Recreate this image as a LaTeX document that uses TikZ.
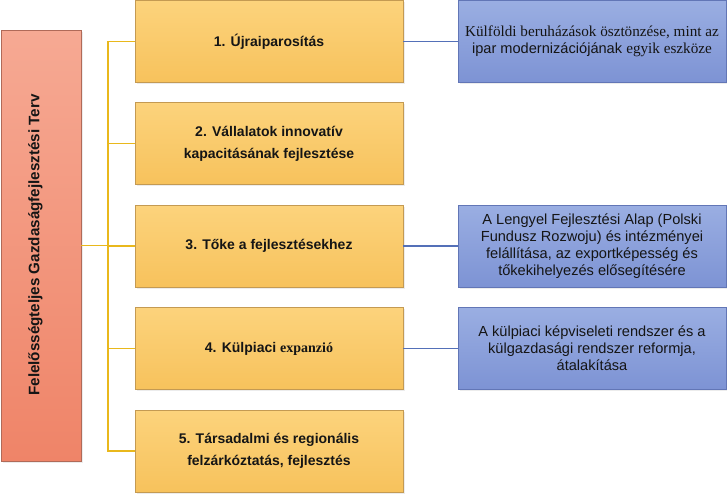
\documentclass[tikz,border=0pt]{standalone}
\usepackage{fontspec}
\setmainfont{Liberation Sans}
\newfontfamily\tms{Liberation Serif}
\usetikzlibrary{shadows}
\definecolor{yelTop}{HTML}{FCD37C}
\definecolor{yelBot}{HTML}{F7C25C}
\definecolor{yelBorder}{HTML}{C49A52}
\definecolor{bluTop}{HTML}{9AAEE2}
\definecolor{bluBot}{HTML}{7D93D4}
\definecolor{bluBorder}{HTML}{6276B6}
\definecolor{salTop}{HTML}{F6A993}
\definecolor{salBot}{HTML}{EF8468}
\definecolor{salBorder}{HTML}{B06A58}
\definecolor{yelLine}{HTML}{E9B81C}
\definecolor{bluLine}{HTML}{5470B8}
\definecolor{txt}{HTML}{151515}
\tikzset{
  yelbox/.style={draw=yelBorder, line width=0.8pt, top color=yelTop, bottom color=yelBot,
    minimum width=268pt, minimum height=82pt, inner sep=0pt, align=center,
    font=\fontsize{14}{22}\selectfont\bfseries, text=txt,
    drop shadow={shadow xshift=1.5pt, shadow yshift=-1.5pt, opacity=0.15}},
  blubox/.style={draw=bluBorder, line width=0.8pt, top color=bluTop, bottom color=bluBot,
    minimum width=268pt, minimum height=82pt, inner sep=0pt, align=center,
    font=\fontsize{14.6}{17}\selectfont, text=txt,
    drop shadow={shadow xshift=1.5pt, shadow yshift=-1.5pt, opacity=0.15}},
  salbox/.style={draw=salBorder, line width=0.8pt, top color=salTop, bottom color=salBot,
    minimum width=80pt, minimum height=431pt, inner sep=0pt,
    drop shadow={shadow xshift=1.5pt, shadow yshift=-1.5pt, opacity=0.15}},
  yelconn/.style={draw=yelLine, line width=1.5pt},
  bluconn/.style={draw=bluLine, line width=1.5pt},
}
\begin{document}
\begin{tikzpicture}[x=1pt,y=-1pt]
\useasboundingbox (0,0) rectangle (727,493);
\node[salbox] (L) at (41,245.5) {};
\node[rotate=90, font=\fontsize{15.2}{17}\selectfont\bfseries, text=txt] (Lt) at (35.5,245) {Felelősségteljes Gazdaságfejlesztési Terv};

\node[yelbox] (y1) at (269,41.5) {1. Újraiparosítás};
\node[yelbox] (y2) at (269,143.5) {2. Vállalatok innovatív\\kapacitásának fejlesztése};
\node[yelbox] (y3) at (269,246) {3. Tőke a fejlesztésekhez};
\node[yelbox] (y4) at (269,348.5) {4. Külpiaci {\tms expanzió}};
\node[yelbox] (y5) at (269,451) {5. Társadalmi és regionális\\felzárkóztatás, fejlesztés};

\node[blubox] (b1) at (592,41.5) {{\tms\fontsize{15.2}{17}\selectfont Külföldi beruházások ösztönzése, mint az}\\ipar modernizációjának {\tms\fontsize{15.2}{17}\selectfont egyik eszköze}};
\node[blubox] (b3) at (592,246) {A Lengyel Fejlesztési Alap (Polski\\Fundusz Rozwoju) és intézményei\\felállítása, az exportképesség és\\tőkekihelyezés elősegítésére};
\node[blubox] (b4) at (592,348.5) {A külpiaci képviseleti rendszer és a\\külgazdasági rendszer reformja,\\átalakítása};

\coordinate (bus) at (108,0);
\draw[yelconn] (y1.west) -- (y1.west -| bus) -- (y5.west -| bus) -- (y5.west);
\draw[yelconn] (y2.west) -- (y2.west -| bus);
\draw[yelconn] (y3.west) -- (y3.west -| bus);
\draw[yelconn] (y4.west) -- (y4.west -| bus);
\draw[yelconn] (L.east) -- (L.east -| bus);

\draw[bluconn] (y1.east) -- (b1.west);
\draw[bluconn] (y3.east) -- (b3.west);
\draw[bluconn] (y4.east) -- (b4.west);
\end{tikzpicture}
\end{document}
